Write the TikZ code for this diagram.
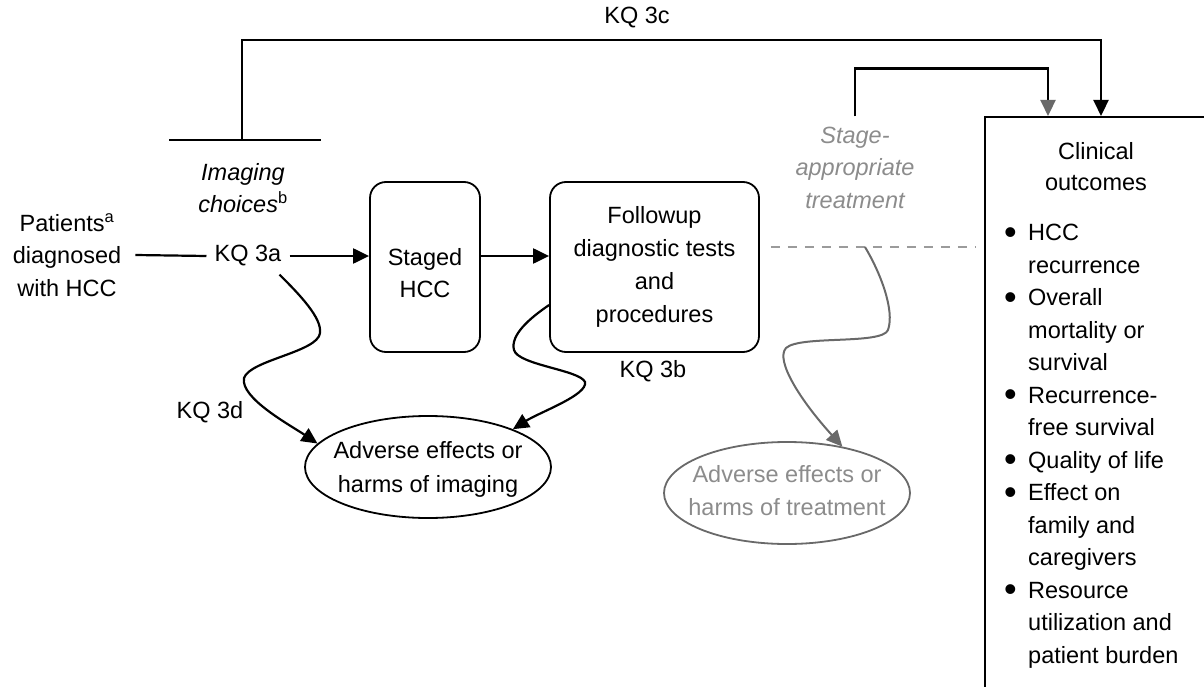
\documentclass[tikz,border=0pt]{standalone}
\usepackage{fontspec}
\setmainfont{Liberation Sans}
\usetikzlibrary{arrows.meta,calc,shapes.geometric}
\definecolor{gtext}{RGB}{140,140,140}
\definecolor{gline}{RGB}{105,105,105}
\definecolor{gdash}{RGB}{155,155,155}
\newcommand{\bul}{\makebox[24pt][l]{\raisebox{-3.5pt}{\fontsize{36}{32.5}\selectfont\textbullet}}}
\begin{document}
\begin{tikzpicture}[x=1pt,y=-1pt,
  txt/.style={font=\fontsize{23.5}{32.5}\selectfont, inner sep=0pt, align=center},
  kq/.style={font=\fontsize{23.5}{28}\selectfont, inner sep=8pt},
  rbox/.style={draw, line width=1.8pt, rounded corners=16pt},
  conn/.style={line width=2.2pt},
  arr/.style={conn, -{Triangle[length=16pt,width=15pt]}},
  garr/.style={conn, -{Triangle[length=16pt,width=15pt,color=gline]}},
  ell/.style={ellipse, line width=1.8pt, minimum width=246pt, minimum height=102pt, inner sep=0pt}
]
\useasboundingbox (0,0) rectangle (1204,687);
\clip (0,0) rectangle (1204,687);

% left text
\node[txt] (patients) at (67,255) {Patients\textsuperscript{a}\\diagnosed\\with HCC};
\node[txt, font=\fontsize{23.5}{32}\selectfont\itshape] (imaging) at (243,188) {Imaging\\choices\textsuperscript{\upshape b}};

% T-bar
\coordinate (tl) at (169,140);
\coordinate (tr) at (321,140);
\coordinate (tbar) at (242,140);
\draw[conn] (tl) -- (tr);

% KQ labels
\node[kq] (kq3a) at (248,256) {KQ 3a};
\node[kq] (kq3b) at (653,371) {KQ 3b};
\node[kq] (kq3c) at (637,18) {KQ 3c};
\node[kq] (kq3d) at (210,412) {KQ 3d};

% boxes
\node[rbox, minimum width=110pt, minimum height=170pt] (staged) at (425,267) {};
\node[txt, font=\fontsize{23.5}{32}\selectfont] (stagedtxt) at (425,273) {Staged\\HCC};
\node[rbox, txt, font=\fontsize{23.5}{33}\selectfont, minimum width=209pt, minimum height=170pt] (followup) at (654.5,267) {Followup\\diagnostic tests\\and\\procedures};

% ellipses
\node[ell, draw] (imgadv) at (428,467) {};
\node[txt, font=\fontsize{23.5}{34}\selectfont] (imgadvtxt) at (428,469) {Adverse effects or\\harms of imaging};
\node[ell, draw=gline] (trtadv) at (787,493) {};
\node[txt, font=\fontsize{23.5}{33}\selectfont, text=gtext] (trtadvtxt) at (787,490.5) {Adverse effects or\\harms of treatment};

% stage-appropriate treatment
\node[txt, font=\fontsize{23.5}{32.5}\selectfont\itshape, text=gtext] (stage) at (855,167.5) {Stage-\\appropriate\\treatment};

% outcomes box
\node[draw, line width=2.2pt, minimum width=400pt, minimum height=700pt, anchor=north west, inner sep=0pt] (outcomes) at (984,116) {};
\node[txt, font=\fontsize{23.5}{31}\selectfont] (clin) at (1096,167) {Clinical\\outcomes};
\node[anchor=base west, inner sep=0pt, font=\fontsize{23.5}{32.5}\selectfont] (bullets) at (1004,240.5) {%
\begin{tabular}[t]{@{}l@{}l@{}}
\bul & HCC\\
 & recurrence\\
\bul & Overall\\
 & mortality or\\
 & survival\\
\bul & Recurrence-\\
 & free survival\\
\bul & Quality of life\\
\bul & Effect on\\
 & family and\\
 & caregivers\\
\bul & Resource\\
 & utilization and\\
 & patient burden
\end{tabular}};

% connectors
\draw[conn] ([xshift=14pt]patients.east) -- (kq3a.west);
\draw[arr] (kq3a.east) -- (staged.west |- kq3a.east);
\draw[arr] (staged.east |- kq3a.east) -- (followup.west |- kq3a.east);

\coordinate (d1) at ($(followup.east)+(11,-20)$);
\coordinate (d2) at ($(outcomes.north west)+(-9,131)$);
\coordinate (dmid) at (865,247);
\draw[conn, color=gdash, dash pattern=on 9pt off 8pt] (d1) -- (d2);

\draw[arr] (tbar) -- ++(0,-100) -| ([xshift=117pt]outcomes.north west);
\draw[garr] ([yshift=10pt]stage.north) -- ++(0,-48) -| ([xshift=64pt]outcomes.north west);

\draw[arr] ([xshift=-10pt]kq3a.south east) .. controls (300,295) and (322,318) .. (320,333)
  .. controls (318,352) and (250,360) .. (244,378)
  .. controls (240,398) and (290,425) .. (imgadv.168);
\draw[arr] ([yshift=-38pt]followup.west) .. controls (530,318) and (510,335) .. (514,350)
  .. controls (518,365) and (580,370) .. (585,382)
  .. controls (588,395) and (540,412) .. (imgadv.24);
\draw[conn, line width=2pt, color=gline, -{Triangle[length=16pt,width=15pt]}] (dmid) .. controls (880,272) and (895,310) .. (888,330)
  .. controls (882,345) and (800,335) .. (786,348)
  .. controls (775,360) and (800,400) .. (trtadv.40);
\end{tikzpicture}
\end{document}
